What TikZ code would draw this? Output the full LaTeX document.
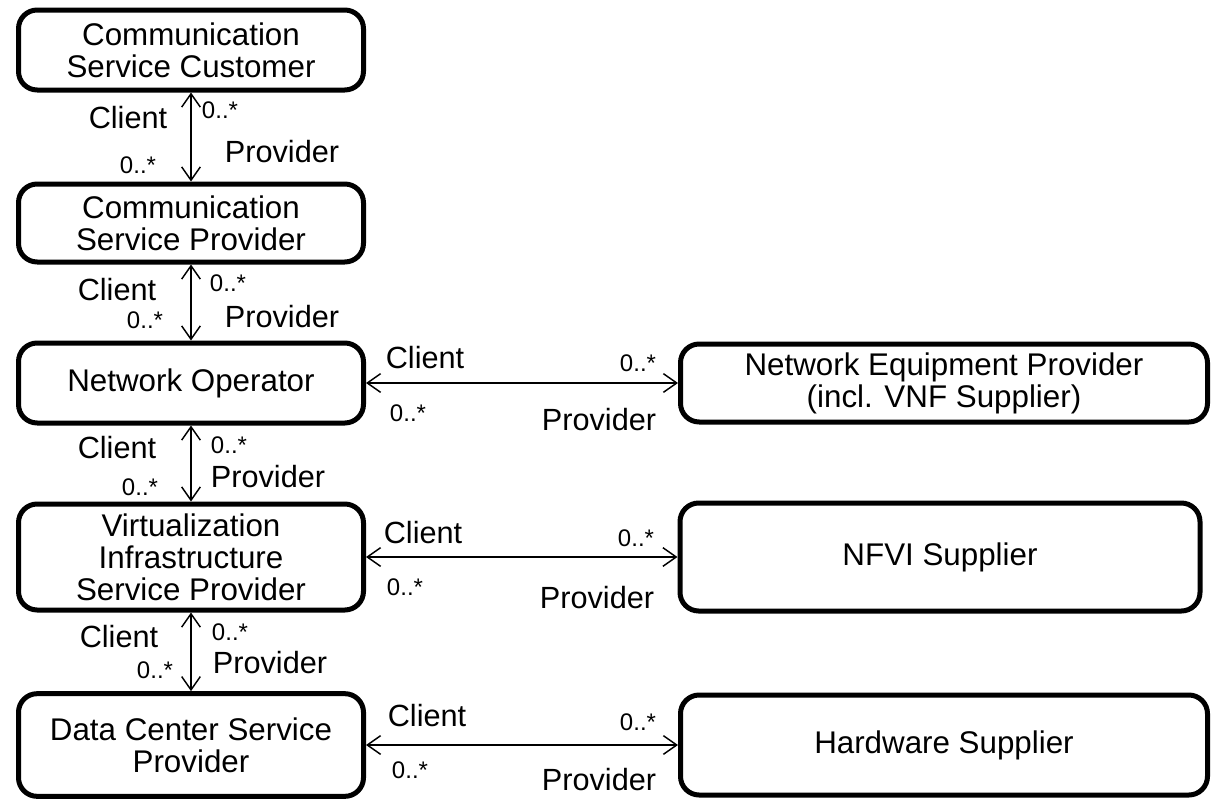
\documentclass[tikz,border=0pt]{standalone}
\usepackage{fontspec}
\setmainfont{Liberation Sans}
\usetikzlibrary{positioning,arrows.meta}

\begin{document}
\begin{tikzpicture}[x=0.75pt,y=-0.75pt,
				block/.style={draw,line width=3.75pt,rounded corners=14pt,align=center,inner sep=0pt,
					minimum width=258.75pt,font=\fontsize{23.5}{24}\selectfont},
				wide/.style={block,minimum width=395.25pt},
				role/.style={inner sep=0pt,font=\fontsize{23}{24}\selectfont},
				mult/.style={inner sep=0pt,font=\fontsize{18}{20}\selectfont},
				rel/.style={line width=1.1pt,{Straight Barb[length=10pt,width=14pt]}-{Straight Barb[length=10pt,width=14pt]}}]
				\useasboundingbox (0,0) rectangle (1218,803);
				\node[block,minimum height=60pt]   (CSC)  at (191,50)  {Communication\\Service Customer};
				\node[block,minimum height=58.5pt] (CSP)  at (191,223) {Communication\\Service Provider};
				\node[block,minimum height=60pt]   (NO)   at (191,383) {Network Operator};
				\node[block,minimum height=79.5pt] (VISP) at (191,557) {Virtualization\\Infrastructure\\Service Provider};
				\node[block,minimum height=77pt]   (DCSP) at (191,745) {Data Center Service\\Provider};
				\node[wide,minimum height=58.5pt]  (NEP)  at (944,383) {Network Equipment Provider\\(incl. VNF Supplier)};
				\node[wide,minimum height=81pt,minimum width=390pt] (NFVI) at (940,557) {NFVI Supplier};
				\node[wide,minimum height=75pt]    (HW)   at (944,745) {Hardware Supplier};
				
				\draw[rel] (CSC) -- (CSP);
				\draw[rel] (CSP) -- (NO);
				\draw[rel] (NO) -- (VISP);
				\draw[rel] (VISP) -- (DCSP);
				\draw[rel] (NO) -- (NEP);
				\draw[rel] (VISP) -- (NFVI);
				\draw[rel] (DCSP) -- (HW);
				
				\node[role] (CL1) at (128,118) {Client};
				\node[mult] (MA1) at (220,110) {0..*};
				\node[role] (PR1) at (282,152) {Provider};
				\node[mult] (MB1) at (138,165) {0..*};
				\node[role] (CL2) at (117,290) {Client};
				\node[mult] (MA2) at (228,283) {0..*};
				\node[role] (PR2) at (282,317) {Provider};
				\node[mult] (MB2) at (145,320) {0..*};
				\node[role] (CL3) at (117,448) {Client};
				\node[mult] (MA3) at (229,445) {0..*};
				\node[role] (PR3) at (268,477) {Provider};
				\node[mult] (MB3) at (140,487) {0..*};
				\node[role] (CL4) at (119,637) {Client};
				\node[mult] (MA4) at (230,632) {0..*};
				\node[role] (PR4) at (270,663) {Provider};
				\node[mult] (MB4) at (155,670) {0..*};
				\node[role] (CL5) at (425,358) {Client};
				\node[mult] (MA5) at (638,363) {0..*};
				\node[role] (PR5) at (599,420) {Provider};
				\node[mult] (MB5) at (408,413) {0..*};
				\node[role] (CL6) at (423,533) {Client};
				\node[mult] (MA6) at (636,538) {0..*};
				\node[role] (PR6) at (597,598) {Provider};
				\node[mult] (MB6) at (405,587) {0..*};
				\node[role] (CL7) at (427,716) {Client};
				\node[mult] (MA7) at (638,722) {0..*};
				\node[role] (PR7) at (599,780) {Provider};
				\node[mult] (MB7) at (410,770) {0..*};
			\end{tikzpicture}
\end{document}
